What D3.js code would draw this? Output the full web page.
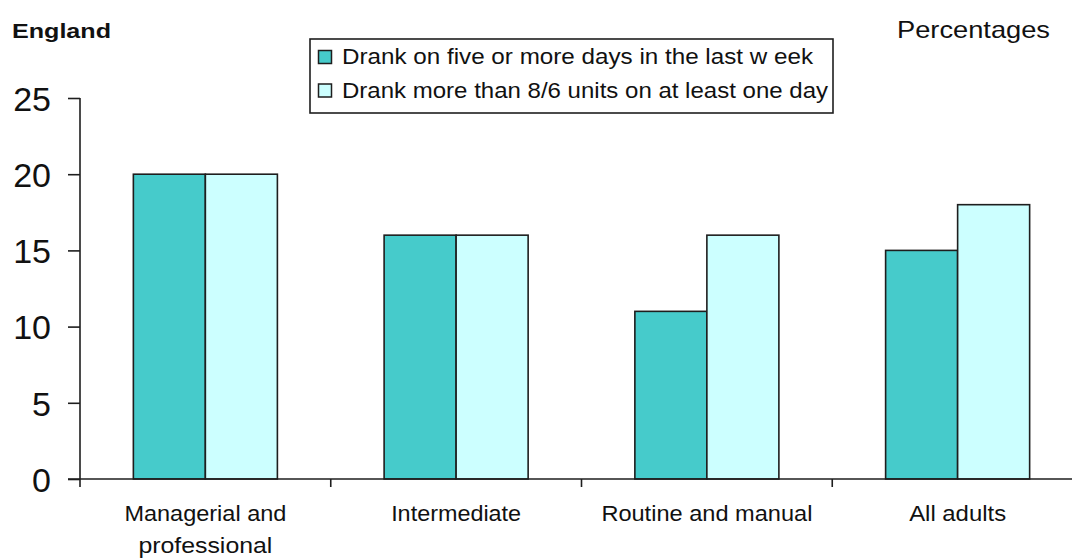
<!DOCTYPE html>
<html>
<head>
<meta charset="utf-8">
<script src="https://cdn.jsdelivr.net/npm/d3@7"></script>
<style>
  html, body { margin: 0; padding: 0; background: #fff; }
  svg { display: block; font-family: "Liberation Sans", Arial, sans-serif; }
</style>
</head>
<body>
<svg id="chart" width="1072" height="559"></svg>
<script>
// Adults drinking, by socio-economic classification (England, percentages)
const categories = [["Managerial and", "professional"], ["Intermediate"], ["Routine and manual"], ["All adults"]];
const seriesNames = ["Drank on five or more days in the last w eek", "Drank more than 8/6 units on at least one day"];
const drankFiveDays = [20, 16, 11, 15];
const drankOverUnits = [20, 16, 16, 18];
const yTicks = [0, 5, 10, 15, 20, 25];

const colours = ["#46cbcb", "#ccffff"];
const ink = "#1e1e1e";

const svg = d3.select("#chart");
const catKeys = categories.map(c => c.join(" "));
const seriesValues = [drankFiveDays, drankOverUnits];

// Scales
const x0 = d3.scaleBand().domain(catKeys).range([80, 1083]).paddingInner(0).paddingOuter(0);
const x1 = d3.scaleBand().domain(d3.range(seriesNames.length)).range([0, x0.bandwidth()])
  .paddingInner(0).paddingOuter(0.741);
const y = d3.scaleLinear().domain([0, 25]).range([479, 98]);

// Bars
const groups = svg.append("g").selectAll("g")
  .data(catKeys).join("g")
  .attr("transform", d => `translate(${x0(d)},0)`);

groups.selectAll("rect")
  .data((d, i) => seriesValues.map((vals, s) => ({ s, v: vals[i] })))
  .join("rect")
  .attr("x", d => x1(d.s))
  .attr("width", x1.bandwidth())
  .attr("y", d => y(d.v))
  .attr("height", d => y(0) - y(d.v))
  .attr("fill", d => colours[d.s])
  .attr("stroke", ink)
  .attr("stroke-width", 1.6);

// Y axis
const yAxis = svg.append("g")
  .attr("transform", "translate(80,0)")
  .call(d3.axisLeft(y).tickValues(yTicks).tickSize(12).tickSizeOuter(0).tickPadding(17));
yAxis.select(".domain").remove();
yAxis.selectAll(".tick line").attr("stroke", ink).attr("stroke-width", 1.6);
yAxis.selectAll(".tick text")
  .attr("fill", "#111")
  .attr("font-size", 34)
  .attr("font-family", "Liberation Sans, Arial, sans-serif")
  .attr("dy", "0.36em");
svg.append("line")
  .attr("x1", 80).attr("x2", 80)
  .attr("y1", y(25)).attr("y2", y(0) + 8)
  .attr("stroke", ink).attr("stroke-width", 1.6);

// X axis: baseline, boundary ticks and category labels
svg.append("line")
  .attr("x1", 68).attr("x2", x0.range()[1])
  .attr("y1", y(0)).attr("y2", y(0))
  .attr("stroke", ink).attr("stroke-width", 1.6);
const boundaries = catKeys.slice(1).map(k => x0(k)).concat([x0.range()[1]]);
svg.append("g").selectAll("line")
  .data(boundaries).join("line")
  .attr("x1", d => d).attr("x2", d => d)
  .attr("y1", y(0)).attr("y2", y(0) + 8)
  .attr("stroke", ink).attr("stroke-width", 1.6);

const labelWidths = [[162, 134], [130], [211], [97]];
const xLabels = svg.append("g").selectAll("text")
  .data(categories).join("text")
  .attr("text-anchor", "middle")
  .attr("font-size", 22)
  .attr("fill", "#111");
xLabels.each(function (lines, i) {
  const cx = x0(catKeys[i]) + x0.bandwidth() / 2;
  d3.select(this).selectAll("tspan")
    .data(lines).join("tspan")
    .attr("x", cx)
    .attr("y", (d, j) => 521 + j * 32)
    .attr("textLength", (d, j) => labelWidths[i][j])
    .attr("lengthAdjust", "spacingAndGlyphs")
    .text(d => d);
});

// Titles
svg.append("text")
  .attr("x", 12).attr("y", 37.5)
  .attr("font-size", 21).attr("font-weight", "bold")
  .attr("fill", "#111")
  .attr("textLength", 99).attr("lengthAdjust", "spacingAndGlyphs")
  .text("England");
svg.append("text")
  .attr("x", 897).attr("y", 37.5)
  .attr("font-size", 24)
  .attr("fill", "#111")
  .attr("textLength", 153).attr("lengthAdjust", "spacingAndGlyphs")
  .text("Percentages");

// Legend
const legend = svg.append("g");
legend.append("rect")
  .attr("x", 310).attr("y", 39).attr("width", 523).attr("height", 74)
  .attr("fill", "#fff").attr("stroke", ink).attr("stroke-width", 1.6);
const legendWidths = [471, 486];
const items = legend.selectAll("g.item")
  .data(seriesNames).join("g")
  .attr("class", "item")
  .attr("transform", (d, i) => `translate(0,${57 + i * 33.5})`);
items.append("rect")
  .attr("x", 318.5).attr("y", -6.5).attr("width", 13).attr("height", 13)
  .attr("fill", (d, i) => colours[i])
  .attr("stroke", ink).attr("stroke-width", 1.5);
items.append("text")
  .attr("x", 342).attr("y", 7)
  .attr("font-size", 22)
  .attr("fill", "#111")
  .attr("textLength", (d, i) => legendWidths[i])
  .attr("lengthAdjust", "spacingAndGlyphs")
  .text(d => d);
</script>
</body>
</html>
